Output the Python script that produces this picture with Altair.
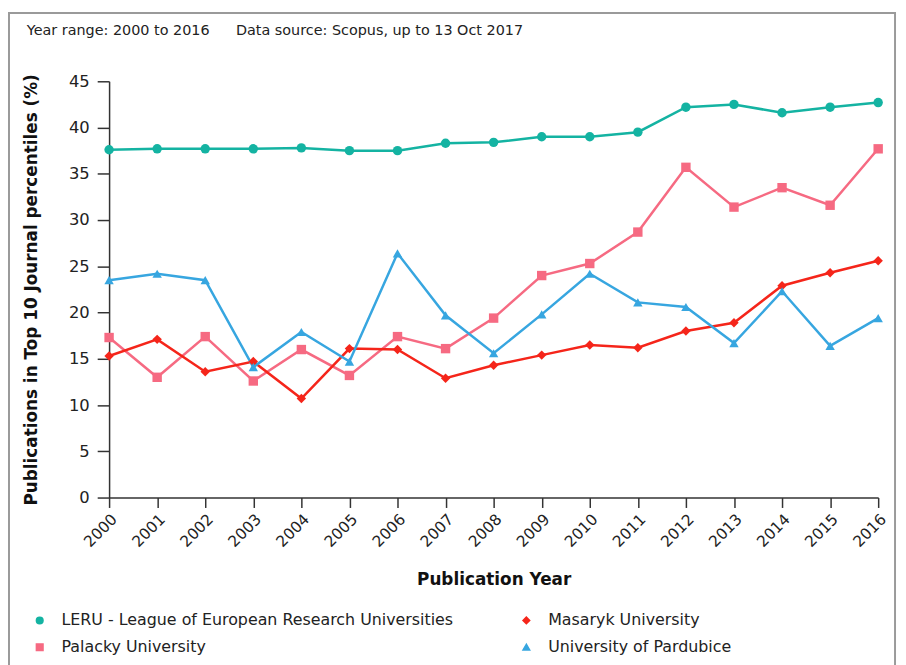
import altair as alt
import pandas as pd

years = list(range(2000, 2017))
series_names = [
    "LERU - League of European Research Universities",
    "Palacky University",
    "Masaryk University",
    "University of Pardubice",
]
leru = [37.6, 37.7, 37.7, 37.7, 37.8, 37.5, 37.5, 38.3, 38.4, 39.0, 39.0, 39.5, 42.2, 42.5, 41.6, 42.2, 42.7]
palacky = [17.3, 13.0, 17.4, 12.6, 16.0, 13.2, 17.4, 16.1, 19.4, 24.0, 25.3, 28.7, 35.7, 31.4, 33.5, 31.6, 37.7]
masaryk = [15.3, 17.1, 13.6, 14.7, 10.7, 16.1, 16.0, 12.9, 14.3, 15.4, 16.5, 16.2, 18.0, 18.9, 22.9, 24.3, 25.6]
pardubice = [23.5, 24.2, 23.5, 14.1, 17.9, 14.7, 26.4, 19.7, 15.6, 19.8, 24.2, 21.1, 20.6, 16.7, 22.3, 16.4, 19.4]
colors = ["#14b3a2", "#f66a82", "#f5251a", "#37a6e0"]
shapes = ["circle", "square", "diamond", "triangle-up"]
y_ticks = [0, 5, 10, 15, 20, 25, 30, 35, 40, 45]
header_left = "Year range: 2000 to 2016"
header_right = "Data source: Scopus, up to 13 Oct 2017"

rows = []
for name, vals in zip(series_names, [leru, palacky, masaryk, pardubice]):
    for yr, v in zip(years, vals):
        rows.append({"year": yr, "value": v, "series": name})
df = pd.DataFrame(rows)

FONT = "DejaVu Sans"

x_enc = alt.X(
    "year:O",
    scale=alt.Scale(type="point", padding=0),
    axis=alt.Axis(
        title="Publication Year",
        labelAngle=315,
        labelFontSize=15.5,
        tickSize=10,
        titleFontSize=17,
        titleFontWeight="bold",
        titlePadding=22,
        labelPadding=4,
    ),
)
y_enc = alt.Y(
    "value:Q",
    scale=alt.Scale(domain=[0, 45], nice=False),
    axis=alt.Axis(
        title="Publications in Top 10 Journal percentiles (%)",
        values=y_ticks,
        labelFontSize=16.5,
        tickSize=12,
        labelPadding=8,
        grid=False,
        titleFontSize=17,
        titleFontWeight="bold",
        titlePadding=28,
    ),
)
legend_spec = alt.Legend(
    title=None,
    orient="none",
    legendX=-78,
    legendY=536,
    columns=2,
    columnPadding=65,
    rowPadding=11,
    labelFontSize=16,
    labelFont=FONT,
    labelColor="#222",
    labelLimit=600,
    symbolSize=45,
    labelOffset=14,
)
color_enc = alt.Color(
    "series:N", scale=alt.Scale(domain=series_names, range=colors), legend=legend_spec
)
shape_enc = alt.Shape(
    "series:N", scale=alt.Scale(domain=series_names, range=shapes), legend=legend_spec
)

lines = alt.Chart(df).mark_line(strokeWidth=2.5).encode(
    x=x_enc, y=y_enc, color=color_enc, detail="series:N"
)
points = alt.Chart(df).mark_point(filled=True, size=90, opacity=1).encode(
    x=x_enc, y=y_enc, color=color_enc, shape=shape_enc
)

one = pd.DataFrame({"a": [0]})
frame = alt.Chart(one).mark_rect(
    filled=False, stroke="#9a9a9a", strokeWidth=2, clip=False
).encode(
    x=alt.value(-101), x2=alt.value(793), y=alt.value(-69), y2=alt.value(640)
)

header1 = alt.Chart(one).mark_text(
    align="left", baseline="middle", fontSize=14.5, font=FONT, color="#222", text=header_left
).encode(x=alt.value(-83), y=alt.value(-51))
header2 = alt.Chart(one).mark_text(
    align="left", baseline="middle", fontSize=14.5, font=FONT, color="#222", text=header_right
).encode(x=alt.value(128), y=alt.value(-51))

chart = alt.layer(frame, lines, points, header1, header2).properties(
    width=776,
    height=420,
    autosize=alt.AutoSizeParams(type="none"),
    padding={"left": 102, "top": 71, "right": 20, "bottom": 166},
).configure_view(stroke=None).configure_axis(
    domainColor="#333",
    tickColor="#333",
    labelColor="#222",
    titleColor="#111",
    labelFont=FONT,
    titleFont=FONT,
    domainWidth=1.5,
    tickWidth=1.5,
)

chart.save("out.html", embed_options={"renderer": "svg", "actions": False})
